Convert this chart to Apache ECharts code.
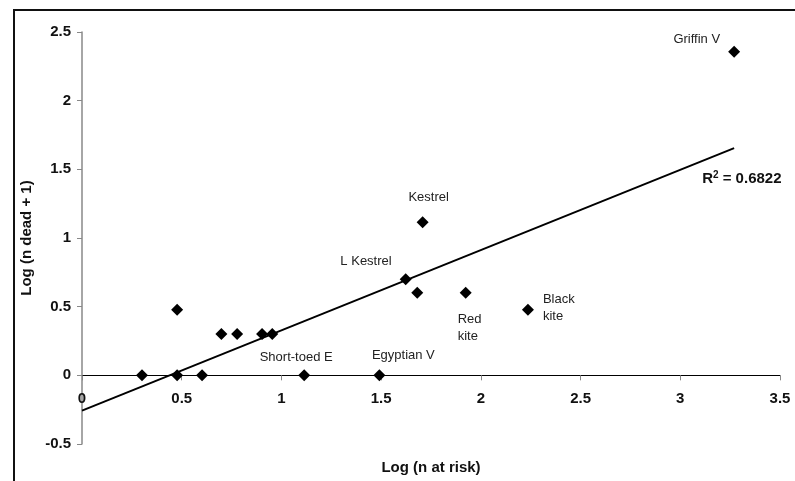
<!DOCTYPE html>
<html>
<head>
<meta charset="utf-8">
<script src="https://cdn.jsdelivr.net/npm/echarts@6/dist/echarts.min.js"></script>
<style>
    html, body { margin: 0; padding: 0; background: #fff; }
    #chart { width: 795px; height: 481px; }
</style>
</head>
<body>
<div id="chart"></div>
<script>
// log10(n at risk), log10(n dead + 1)
var logAtRisk = [0.301, 0.477, 0.477, 0.602, 0.699, 0.778, 0.903, 0.954, 1.114, 1.491, 1.623, 1.681, 1.708, 1.924, 2.236, 3.270];
var logDead   = [0,     0.477, 0,     0,     0.301, 0.301, 0.301, 0.301, 0,     0,     0.699, 0.602, 1.114, 0.602, 0.477, 2.356];
var species   = ['', '', '', '', '', '', '', '', 'Short-toed E', 'Egyptian V', 'L Kestrel', '', 'Kestrel', 'Red\nkite', 'Black\nkite', 'Griffin V'];

// fitted line as drawn (end points)
var trendX = [0, 3.27];
var trendY = [-0.257, 1.654];
var rSquared = '0.6822';

window.onload = function() {
    var chart = echarts.init(document.getElementById('chart'));

    // where each name sits next to its point
    var labelPlace = {
        'Short-toed E': { align: 'center', offset: [-8, -18] },
        'Egyptian V':   { align: 'center', offset: [24, -20] },
        'L Kestrel':    { align: 'right',  offset: [-14, -18] },
        'Kestrel':      { align: 'center', offset: [6, -25] },
        'Red\nkite':    { align: 'left',   offset: [-8, 35] },
        'Black\nkite':  { align: 'left',   offset: [15, -2] },
        'Griffin V':    { align: 'right',  offset: [-14, -12] }
    };

    var points = logAtRisk.map(function(x, i) {
        var item = { value: [x, logDead[i]], name: species[i] };
        var p = labelPlace[species[i]];
        if (p) {
            item.label = {
                show: true,
                formatter: '{b}',
                position: 'inside',
                align: p.align,
                verticalAlign: 'middle',
                offset: p.offset
            };
        }
        return item;
    });

    var trend = trendX.map(function(x, i) { return [x, trendY[i]]; });

    chart.setOption({
        animation: false,
        grid: { left: 82, right: 15, top: 32, bottom: 37, containLabel: false, outerBoundsMode: 'none' },
        xAxis: {
            type: 'value',
            min: 0, max: 3.5, interval: 0.5,
            name: 'Log (n at risk)',
            nameLocation: 'middle',
            nameGap: 16,
            nameTextStyle: { fontFamily: 'Liberation Sans', fontWeight: 'bold', fontSize: 15, color: '#111' },
            axisLine: { onZero: true, lineStyle: { color: '#000', width: 1 } },
            axisTick: { show: true, length: 5, lineStyle: { color: '#888' } },
            // labels sit under the zero line, not under the grid bottom
            axisLabel: { margin: -53, fontFamily: 'Liberation Sans', fontWeight: 'bold', fontSize: 15, color: '#111' },
            splitLine: { show: false }
        },
        yAxis: {
            type: 'value',
            min: -0.5, max: 2.5, interval: 0.5,
            name: 'Log (n dead + 1)',
            nameLocation: 'middle',
            nameRotate: 90,
            nameGap: 43,
            nameTextStyle: { fontFamily: 'Liberation Sans', fontWeight: 'bold', fontSize: 15, color: '#111' },
            axisLine: { show: true, onZero: false, lineStyle: { color: '#888', width: 1.5 } },
            axisTick: { show: true, length: 5, lineStyle: { color: '#888' } },
            axisLabel: { margin: 11, fontFamily: 'Liberation Sans', fontWeight: 'bold', fontSize: 15, color: '#111' },
            splitLine: { show: false }
        },
        graphic: [
            {
                type: 'polyline',
                shape: { points: [[14, 481], [14, 10], [795, 10]] },
                style: { stroke: '#111', lineWidth: 2, fill: null }
            }
        ],
        series: [
            {
                type: 'line',
                data: trend,
                symbol: 'none',
                lineStyle: { color: '#000', width: 2 },
                endLabel: {
                    show: true,
                    formatter: 'R{sup|2} = ' + rSquared,
                    offset: [-40, 31],
                    fontFamily: 'Liberation Sans',
                    fontWeight: 'bold',
                    fontSize: 15,
                    color: '#111',
                    rich: {
                        sup: { fontSize: 10, fontWeight: 'bold', verticalAlign: 'top', padding: [0, 0, 8, 0], color: '#111', fontFamily: 'Liberation Sans' }
                    }
                },
                z: 2
            },
            {
                type: 'scatter',
                data: points,
                symbol: 'diamond',
                symbolSize: 12,
                itemStyle: { color: '#000', opacity: 1 },
                label: {
                    fontFamily: 'Liberation Sans',
                    fontSize: 13,
                    lineHeight: 17,
                    color: '#222'
                },
                z: 3
            }
        ]
    });
};
</script>
</body>
</html>
